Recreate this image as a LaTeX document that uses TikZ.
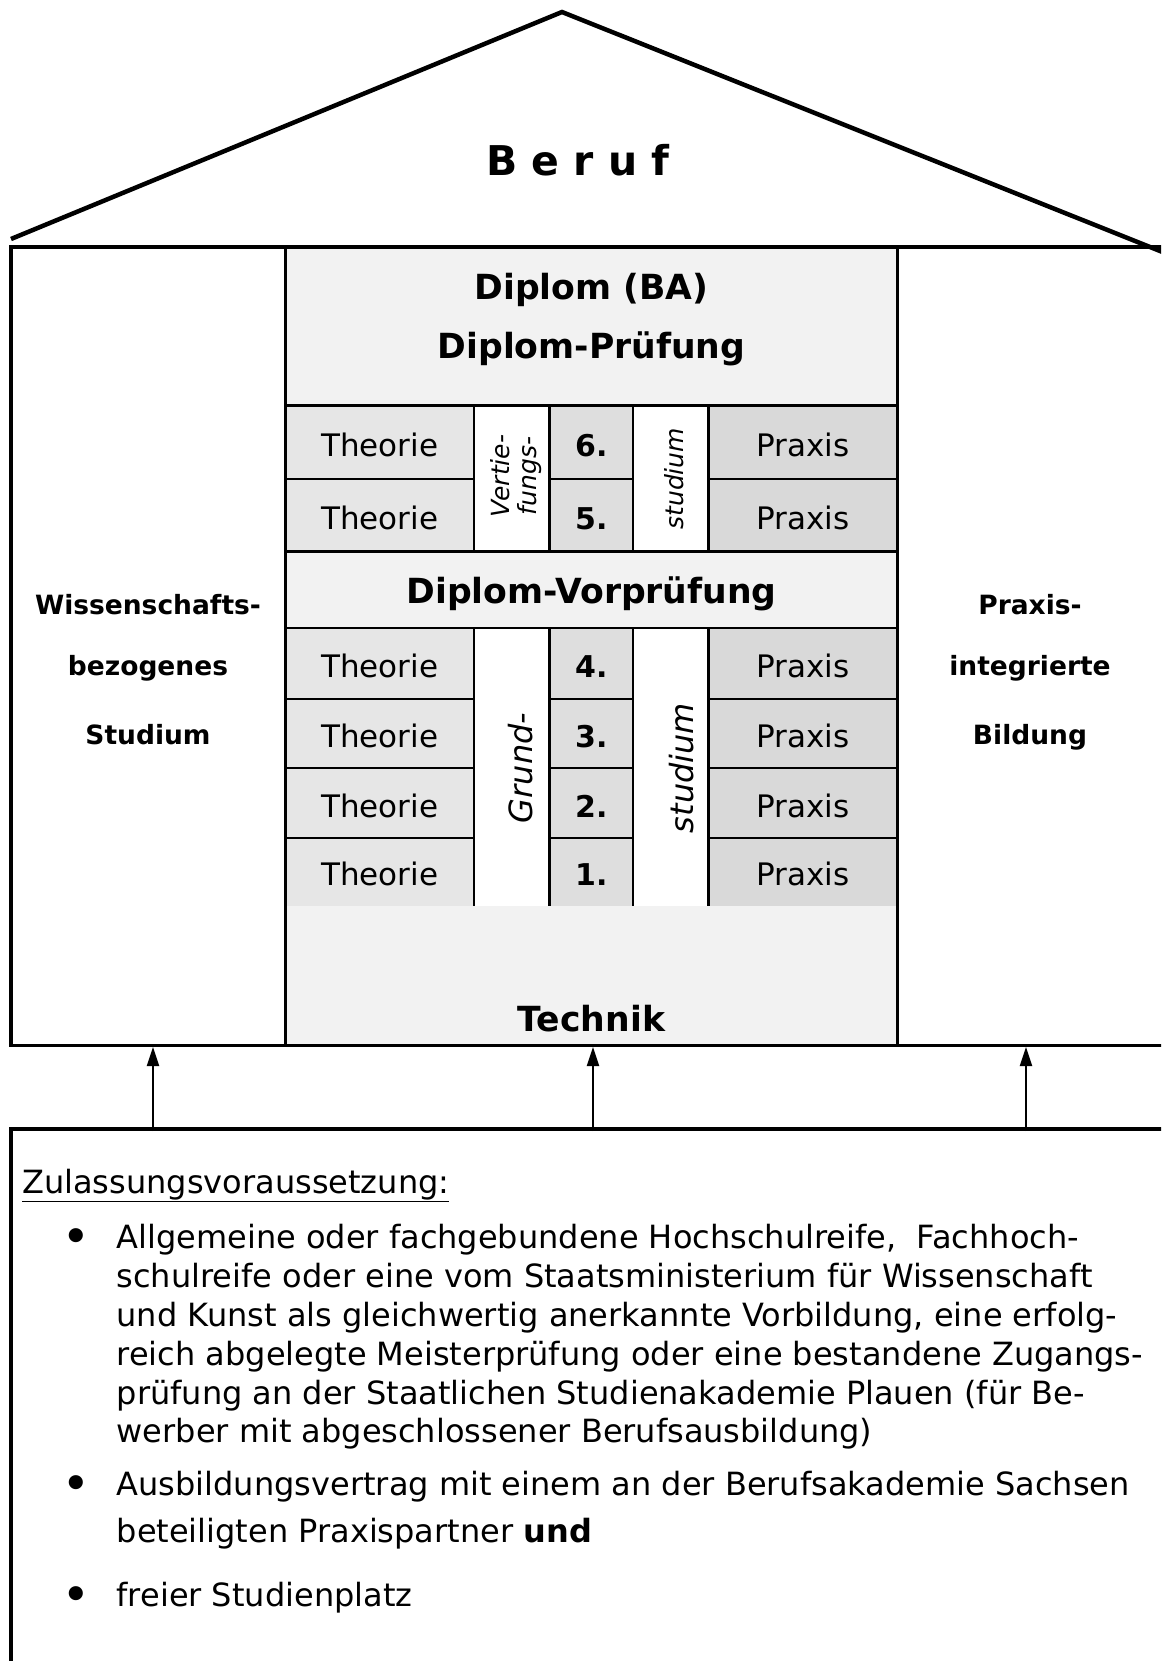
\documentclass[tikz,border=0pt]{standalone}
\usepackage{fontspec}
\setmainfont{DejaVu Sans}
\usetikzlibrary{arrows.meta}
\definecolor{lightg}{HTML}{F2F2F2}
\definecolor{theog}{HTML}{E6E6E6}
\definecolor{numg}{HTML}{DEDEDE}
\definecolor{praxg}{HTML}{D9D9D9}
\tikzset{
  outl/.style={line width=3.8pt, line cap=rect},
  cl/.style={line width=2.8pt},
  roofline/.style={line width=4.5pt, line join=miter},
  arr/.style={line width=2pt, -{Triangle[length=19pt,width=12pt]}},
  txt/.style={inner sep=0pt, anchor=base},
  hdr/.style={txt, font=\fontsize{34.6}{40}\selectfont\bfseries},
  side/.style={txt, font=\fontsize{26.5}{32}\selectfont\bfseries},
  cell/.style={txt, font=\fontsize{31}{37}\selectfont},
  numc/.style={txt, font=\fontsize{30}{36}\selectfont\bfseries},
  rotsmall/.style={inner sep=0pt, rotate=90, align=center, font=\fontsize{25}{27.5}\selectfont\itshape},
  rotbig/.style={inner sep=0pt, rotate=90, align=center, font=\fontsize{32}{37}\selectfont\itshape},
  body/.style={inner sep=0pt, anchor=base west, font=\fontsize{32}{39}\selectfont},
  bul/.style={inner sep=0pt, anchor=base, font=\fontsize{40}{39}\selectfont\bfseries},
}
\begin{document}
\begin{tikzpicture}[x=1pt,y=-1pt]
\useasboundingbox (0,0) rectangle (1161,1661);
\clip (0,0) rectangle (1161,1661);
\fill[white] (0,0) rectangle (1161,1661);

% roof
\draw[roofline] (11,239) -- (562,12) -- (1180,259);
\node[txt, font=\fontsize{41}{48}\selectfont\bfseries] (beruf) at (578,176) {B e r u f};

% middle column fills
\fill[lightg] (285.5,247) rectangle (897.5,1045.5);
\foreach \a/\b in {405.7/479, 479/551.8, 628/699, 699/768, 768/838, 838/905.7} {
  \fill[theog] (285.5,\a) rectangle (474,\b);
  \fill[numg] (549.6,\a) rectangle (633,\b);
  \fill[praxg] (708.5,\a) rectangle (897.5,\b);
}
\fill[white] (474,405.7) rectangle (549.6,551.8);
\fill[white] (633,405.7) rectangle (708.5,551.8);
\fill[white] (474,628) rectangle (549.6,905.7);
\fill[white] (633,628) rectangle (708.5,905.7);

% cell lines
\draw[cl] (285.5,405.7) -- (897.5,405.7);
\draw[cl] (285.5,551.8) -- (897.5,551.8);
\draw[cl] (285.5,628) -- (897.5,628);
\foreach \y in {479, 699, 768, 838} {
  \draw[cl] (285.5,\y) -- (474,\y);
  \draw[cl] (549.6,\y) -- (633,\y);
  \draw[cl] (708.5,\y) -- (897.5,\y);
}
\foreach \x in {474, 549.6, 633, 708.5} {
  \draw[cl] (\x,405.7) -- (\x,551.8);
  \draw[cl] (\x,628) -- (\x,905.7);
}

% building outline
\draw[outl] (1175,247) -- (11,247) -- (11,1045.5) -- (1175,1045.5);
\draw[outl] (285.5,247) -- (285.5,1045.5);
\draw[outl] (897.5,247) -- (897.5,1045.5);

% headers
\node[hdr] (dba) at (591.5,300) {Diplom (BA)};
\node[hdr] (dpr) at (591.5,358) {Diplom-Prüfung};
\node[hdr] (dvp) at (591.5,603) {Diplom-Vorprüfung};
\node[hdr] (tec) at (591.5,1031) {Technik};

% side labels
\node[side] (l1) at (148,614.6) {Wissenschafts-};
\node[side] (l2) at (148,675) {bezogenes};
\node[side] (l3) at (148,744) {Studium};
\node[side] (r1) at (1030,614.6) {Praxis-};
\node[side] (r2) at (1030,675) {integrierte};
\node[side] (r3) at (1030,744) {Bildung};

% semester rows
\foreach \n/\yc in {6/442.4, 5/515.4, 4/663.5, 3/733.5, 2/803, 1/871.9} {
  \node[cell] (th\n) at (379.8,\yc+14) {Theorie};
  \node[numc] (nu\n) at (591.3,\yc+14) {\n.};
  \node[cell] (pr\n) at (803,\yc+14) {Praxis};
}

% rotated labels
\node[rotsmall] (vert) at (516,476) {Vertie-\\fungs-};
\node[rotsmall] (stu1) at (674,478.8) {studium};
\node[rotbig] (grund) at (521,768) {Grund-};
\node[rotbig] (stu2) at (682,768) {studium};

% requirements box
\draw[outl] (11,1680) -- (11,1129) -- (1175,1129);
\coordinate (s1) at (153,1131);
\coordinate (t1) at (153,1047);
\coordinate (s2) at (593,1131);
\coordinate (t2) at (593,1047);
\coordinate (s3) at (1026,1131);
\coordinate (t3) at (1026,1047);
\draw[arr] (s1) -- (t1);
\draw[arr] (s2) -- (t2);
\draw[arr] (s3) -- (t3);

\node[body] (zul) at (22,1193) {\underline{Zulassungsvoraussetzung:}};
\node[bul] (b1) at (76,1250) {•};
\node[body] (z1) at (116.5,1248) {Allgemeine oder fachgebundene Hochschulreife, \ Fachhoch-};
\node[body] (z2) at (116.5,1287) {schulreife oder eine vom Staatsministerium für Wissenschaft};
\node[body] (z3) at (116.5,1326) {und Kunst als gleichwertig anerkannte Vorbildung, eine erfolg-};
\node[body] (z4) at (116.5,1365) {reich abgelegte Meisterprüfung oder eine bestandene Zugangs-};
\node[body] (z5) at (116.5,1404) {prüfung an der Staatlichen Studienakademie Plauen (für Be-};
\node[body] (z6) at (116.5,1442) {werber mit abgeschlossener Berufsausbildung)};
\node[bul] (b2) at (76,1497) {•};
\node[body] (z7) at (116.5,1495) {Ausbildungsvertrag mit einem an der Berufsakademie Sachsen};
\node[body] (z8) at (116.5,1542) {beteiligten Praxispartner \textbf{und}};
\node[bul] (b3) at (76,1608) {•};
\node[body] (z9) at (116.5,1606) {freier Studienplatz};
\end{tikzpicture}
\end{document}
